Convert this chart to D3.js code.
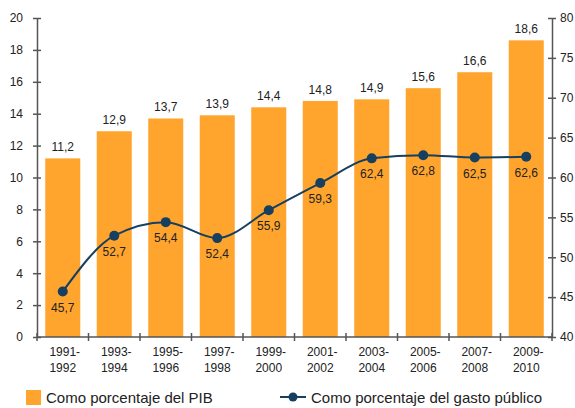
<!DOCTYPE html>
<html><head><meta charset="utf-8">
<script src="https://cdn.jsdelivr.net/npm/d3@7"></script>
<style>body{margin:0;background:#fff;font-family:"Liberation Sans",Arial,sans-serif;}</style>
</head><body><svg id="c" width="575" height="408"></svg>
<script>
const categories = [["1991-","1992"],["1993-","1994"],["1995-","1996"],["1997-","1998"],["1999-","2000"],["2001-","2002"],["2003-","2004"],["2005-","2006"],["2007-","2008"],["2009-","2010"]];
const pibValues = [11.2,12.9,13.7,13.9,14.4,14.8,14.9,15.6,16.6,18.6];
const gastoValues = [45.7,52.7,54.4,52.4,55.9,59.3,62.4,62.8,62.5,62.6];
const leftTicks = [0,2,4,6,8,10,12,14,16,18,20];
const rightTicks = [40,45,50,55,60,65,70,75,80];
const legendLabels = ["Como porcentaje del PIB","Como porcentaje del gasto público"];

const svg = d3.select("#c");
const L = 37, R = 552, T = 18, B = 337;
const axisColor = "#555", barColor = "#FFA52E", lineColor = "#173F5F", textColor = "#222";
const keys = categories.map(d => d.join(""));
const x = d3.scaleBand().domain(keys).range([L, R]).paddingInner(0.32).paddingOuter(0.16);
const yL = d3.scaleLinear().domain([0,20]).range([B, T]);
const yR = d3.scaleLinear().domain([40,80]).range([B, T]);
const fmt = v => v.toFixed(1).replace(".", ",");

// bars
svg.selectAll("rect.bar").data(pibValues).join("rect")
  .attr("x", (d,i) => x(keys[i])).attr("width", x.bandwidth())
  .attr("y", d => yL(d)).attr("height", d => B - yL(d)).attr("fill", barColor);
svg.selectAll("text.bl").data(pibValues).join("text")
  .attr("x", (d,i) => x(keys[i]) + x.bandwidth()/2).attr("y", d => yL(d) - 7)
  .attr("text-anchor","middle").attr("font-size",12).attr("fill",textColor).text(fmt);

// axes
function styleAxis(g){ g.selectAll("path,line").attr("stroke", axisColor).attr("stroke-width",1.5); g.selectAll("text").attr("fill",textColor).attr("font-size",12).attr("font-family","Liberation Sans, Arial, sans-serif"); }
const gl = svg.append("g").attr("transform",`translate(${L},0)`)
  .call(d3.axisLeft(yL).tickValues(leftTicks).tickSize(4).tickSizeOuter(0).tickPadding(10));
gl.selectAll(".tick line").attr("x1",4).attr("x2",-4);
styleAxis(gl);
const gr = svg.append("g").attr("transform",`translate(${R},0)`)
  .call(d3.axisRight(yR).tickValues(rightTicks).tickSize(4).tickSizeOuter(0).tickPadding(4));
gr.selectAll(".tick line").attr("x1",-4).attr("x2",4);
styleAxis(gr);

// x axis baseline with ticks between categories
const bounds = d3.range(keys.length+1).map(i => L + i*(R-L)/keys.length);
svg.append("line").attr("x1",L).attr("x2",R).attr("y1",B).attr("y2",B).attr("stroke",axisColor).attr("stroke-width",1.5);
svg.selectAll("line.xt").data(bounds).join("line")
  .attr("x1",d=>d).attr("x2",d=>d).attr("y1",B-4).attr("y2",B+4).attr("stroke",axisColor).attr("stroke-width",1.5);
const xl = svg.selectAll("text.xl").data(categories).join("text")
  .attr("x",(d,i)=>x(keys[i])+x.bandwidth()/2).attr("y",B+19)
  .attr("text-anchor","middle").attr("font-size",12).attr("fill",textColor);
xl.append("tspan").attr("x",(d,i)=>x(keys[i])+x.bandwidth()/2+2).text(d=>d[0]);
xl.append("tspan").attr("x",(d,i)=>x(keys[i])+x.bandwidth()/2).attr("dy",16).text(d=>d[1]);

// line
const line = d3.line().x((d,i)=>x(keys[i])+x.bandwidth()/2).y(d=>yR(d)).curve(d3.curveMonotoneX);
svg.append("path").datum(gastoValues).attr("d",line).attr("fill","none").attr("stroke",lineColor).attr("stroke-width",2);
svg.selectAll("circle.pt").data(gastoValues).join("circle")
  .attr("cx",(d,i)=>x(keys[i])+x.bandwidth()/2).attr("cy",d=>yR(d)).attr("r",5).attr("fill",lineColor);
svg.selectAll("text.pl").data(gastoValues).join("text")
  .attr("x",(d,i)=>x(keys[i])+x.bandwidth()/2).attr("y",d=>yR(d)+20)
  .attr("text-anchor","middle").attr("font-size",12).attr("fill",textColor).text(fmt);

// legend
const ly = 398;
svg.append("rect").attr("x",26).attr("y",ly-8).attr("width",15).attr("height",15).attr("fill",barColor);
svg.append("text").attr("x",46).attr("y",ly+5).attr("font-size",15).attr("fill",textColor).text(legendLabels[0]);
svg.append("line").attr("x1",280).attr("x2",306).attr("y1",ly-1).attr("y2",ly-1).attr("stroke",lineColor).attr("stroke-width",2);
svg.append("circle").attr("cx",293).attr("cy",ly-1).attr("r",4.5).attr("fill",lineColor);
svg.append("text").attr("x",311).attr("y",ly+5).attr("font-size",15).attr("fill",textColor).text(legendLabels[1]);
</script></body></html>
